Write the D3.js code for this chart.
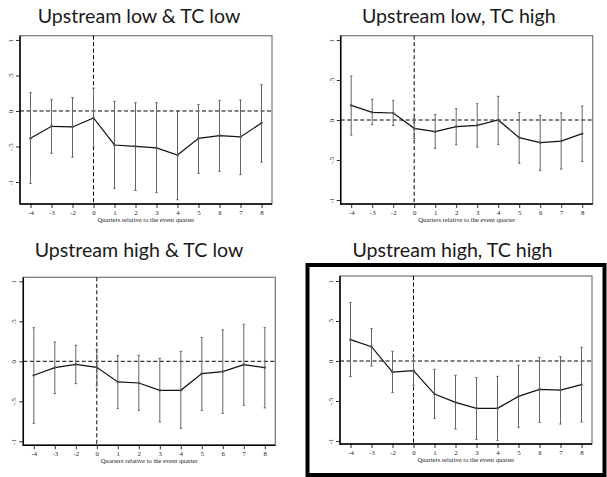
<!DOCTYPE html>
<html>
<head>
<meta charset="utf-8">
<script src="https://cdn.jsdelivr.net/npm/d3@7"></script>
<style>
  body { margin: 0; background: #fff; }
  svg { display: block; }
</style>
</head>
<body>
<div id="chart"></div>
<script>
// x categories (note: no -1, the omitted quarter)
var quarters = ["-4", "-3", "-2", "0", "1", "2", "3", "4", "5", "6", "7", "8"];
var yTickValues = [1, 0.5, 0, -0.5, -1];
var yTickLabels = ["1", ".5", "0", "-.5", "-1"];
var titles = ["Upstream low & TC low", "Upstream low, TC high", "Upstream high & TC low", "Upstream high, TC high"];
var xTitle = "Quarters relative to the event quarter";

// point estimates and 95% CI bounds
var estLowLow = [-0.385, -0.216, -0.225, -0.099, -0.479, -0.498, -0.52, -0.62, -0.385, -0.347, -0.366, -0.169];
var upLowLow  = [0.258, 0.16, 0.19, 0.32, 0.136, 0.117, 0.117, 0.0, 0.09, 0.15, 0.155, 0.37];
var loLowLow  = [-1.02, -0.596, -0.65, -0.51, -1.09, -1.12, -1.15, -1.25, -0.88, -0.85, -0.897, -0.72];

var estLowHigh = [0.183, 0.096, 0.088, -0.104, -0.146, -0.083, -0.067, 0.0, -0.22, -0.283, -0.263, -0.171];
var upLowHigh  = [0.55, 0.258, 0.246, 0.02, 0.067, 0.142, 0.204, 0.296, 0.092, 0.058, 0.088, 0.175];
var loLowHigh  = [-0.188, -0.058, -0.067, -0.23, -0.354, -0.31, -0.338, -0.304, -0.54, -0.63, -0.613, -0.517];

var estHighLow = [-0.175, -0.079, -0.038, -0.075, -0.258, -0.271, -0.363, -0.363, -0.154, -0.129, -0.042, -0.079];
var upHighLow  = [0.42, 0.24, 0.2, 0.15, 0.071, 0.075, 0.038, 0.125, 0.296, 0.392, 0.463, 0.42];
var loHighLow  = [-0.775, -0.404, -0.279, -0.308, -0.588, -0.613, -0.758, -0.838, -0.613, -0.65, -0.55, -0.583];

var estHighHigh = [0.267, 0.179, -0.138, -0.121, -0.413, -0.517, -0.592, -0.592, -0.442, -0.354, -0.363, -0.296];
var upHighHigh  = [0.733, 0.404, 0.121, 0.058, -0.104, -0.179, -0.208, -0.192, -0.054, 0.046, 0.054, 0.171];
var loHighHigh  = [-0.196, -0.063, -0.396, -0.304, -0.717, -0.85, -0.979, -0.992, -0.829, -0.767, -0.788, -0.763];

var W = 607, H = 477;

// frame of each plot region and its y extent
var panels = [
  {title: titles[0], est: estLowLow, up: upLowLow, lo: loLowLow,
   left: 20, top: 35.7, bottom: 204, yMin: -1.31, yMax: 1.06, tx: 139, ty: 22.7},
  {title: titles[1], est: estLowHigh, up: upLowHigh, lo: loLowHigh,
   left: 340.7, top: 35.7, bottom: 204, yMin: -1.05, yMax: 1.054, tx: 458.8, ty: 22.7},
  {title: titles[2], est: estHighLow, up: upHighLow, lo: loHighLow,
   left: 23.3, top: 277.3, bottom: 445.3, yMin: -1.05, yMax: 1.05, tx: 139, ty: 256.7},
  {title: titles[3], est: estHighHigh, up: upHighHigh, lo: loHighHigh,
   left: 340, top: 276, bottom: 444, yMin: -1.0375, yMax: 1.0625, tx: 452.5, ty: 256.7}
];
var plotW = 252;

var svg = d3.select("#chart").append("svg")
    .attr("width", W)
    .attr("height", H);

svg.append("rect").attr("width", W).attr("height", H).attr("fill", "#fff");

// highlight box round the last panel
svg.append("rect")
    .attr("x", 307.5).attr("y", 265)
    .attr("width", 297).attr("height", 210)
    .attr("fill", "none")
    .attr("stroke", "#000")
    .attr("stroke-width", 4);

panels.forEach(function(p) {
    var x = d3.scalePoint().domain(quarters).range([p.left, p.left + plotW]).padding(0.5);
    var y = d3.scaleLinear().domain([p.yMin, p.yMax]).range([p.bottom, p.top]);
    var g = svg.append("g");

    g.append("text")
        .attr("x", p.tx).attr("y", p.ty)
        .attr("text-anchor", "middle")
        .style("font-family", "Lato")
        .style("font-size", "19.6px")
        .attr("fill", "#1a1a1a")
        .text(p.title);

    // plot region outline
    g.append("rect")
        .attr("x", p.left).attr("y", p.top)
        .attr("width", plotW).attr("height", p.bottom - p.top)
        .attr("fill", "none")
        .attr("stroke", "#777")
        .attr("stroke-width", 1.2);

    // reference lines
    g.append("line")
        .attr("x1", p.left).attr("x2", p.left + plotW)
        .attr("y1", y(0)).attr("y2", y(0))
        .attr("stroke", "#000").attr("stroke-width", 1)
        .attr("stroke-dasharray", "4,2.5");
    g.append("line")
        .attr("x1", x("0")).attr("x2", x("0"))
        .attr("y1", p.top).attr("y2", p.bottom)
        .attr("stroke", "#000").attr("stroke-width", 1)
        .attr("stroke-dasharray", "4,2.5");

    // axes
    var yAxis = d3.axisLeft(y).tickValues(yTickValues).tickSize(4)
        .tickFormat(function(d, i) { return yTickLabels[i]; });
    var ya = g.append("g").attr("transform", "translate(" + p.left + ",0)").call(yAxis);
    ya.select(".domain").remove();
    ya.selectAll(".tick line").attr("stroke", "#000").attr("stroke-width", 0.8);
    ya.selectAll(".tick text")
        .attr("x", null).attr("dy", null)
        .attr("transform", "translate(-7,0) rotate(-90)")
        .attr("text-anchor", "middle")
        .style("font-family", "Liberation Serif")
        .style("font-size", "6.8px")
        .attr("fill", "#222");

    var xAxis = d3.axisBottom(x).tickSize(4);
    var xa = g.append("g").attr("transform", "translate(0," + p.bottom + ")").call(xAxis);
    xa.select(".domain").remove();
    xa.selectAll(".tick line").attr("stroke", "#000").attr("stroke-width", 0.8);
    xa.selectAll(".tick text")
        .attr("y", 11).attr("dy", null)
        .style("font-family", "Liberation Serif")
        .style("font-size", "6.8px")
        .attr("fill", "#222");

    g.append("line")
        .attr("x1", p.left).attr("x2", p.left)
        .attr("y1", p.top).attr("y2", p.bottom + 0.7)
        .attr("stroke", "#000").attr("stroke-width", 1.5);
    g.append("line")
        .attr("x1", p.left).attr("x2", p.left + plotW)
        .attr("y1", p.bottom).attr("y2", p.bottom)
        .attr("stroke", "#000").attr("stroke-width", 1.5);

    g.append("text")
        .attr("x", p.left + plotW / 2).attr("y", p.bottom + 17.5)
        .attr("text-anchor", "middle")
        .style("font-family", "Liberation Serif")
        .style("font-size", "6.6px")
        .attr("fill", "#222")
        .text(xTitle);

    // confidence intervals
    var ci = g.append("g").attr("stroke", "#666").attr("stroke-width", 1);
    quarters.forEach(function(q, i) {
        ci.append("line")
            .attr("x1", x(q)).attr("x2", x(q))
            .attr("y1", y(p.up[i])).attr("y2", y(p.lo[i]));
        ci.append("line")
            .attr("x1", x(q) - 1.2).attr("x2", x(q) + 1.2)
            .attr("y1", y(p.up[i])).attr("y2", y(p.up[i]));
        ci.append("line")
            .attr("x1", x(q) - 1.2).attr("x2", x(q) + 1.2)
            .attr("y1", y(p.lo[i])).attr("y2", y(p.lo[i]));
    });

    var line = d3.line()
        .x(function(d, i) { return x(quarters[i]); })
        .y(function(d) { return y(d); });
    g.append("path")
        .datum(p.est)
        .attr("d", line)
        .attr("fill", "none")
        .attr("stroke", "#111")
        .attr("stroke-width", 1.2);

    g.selectAll(".pt").data(p.est).enter()
        .append("circle")
        .attr("class", "pt")
        .attr("cx", function(d, i) { return x(quarters[i]); })
        .attr("cy", function(d) { return y(d); })
        .attr("r", 1.3)
        .attr("fill", "#555");
});
</script>
</body>
</html>
